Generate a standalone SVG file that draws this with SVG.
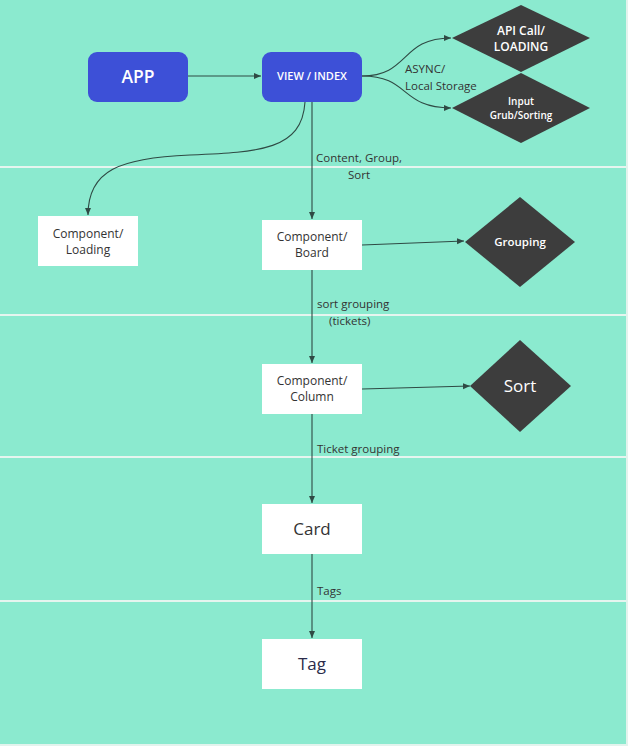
<svg xmlns="http://www.w3.org/2000/svg" width="628" height="746" viewBox="0 0 628 746">
<defs>
<style>
.bg{fill:#8beacf}
.lane{stroke:#e6f5ef;stroke-width:2}
.blue{fill:#3d50d7}
.white{fill:#ffffff}
.dia{fill:#3d3d3d}
.edge{fill:none;stroke:#2f4a44;stroke-width:1.1}
.t{font-family:"Open Sans","Noto Sans","Liberation Sans",sans-serif;text-anchor:middle}
.lbl{font-family:"Open Sans","Noto Sans","Liberation Sans",sans-serif;font-size:11.5px;fill:#333}
.wt{fill:#ffffff}
.dk{fill:#333333}
</style>
<marker id="arr" markerWidth="8" markerHeight="8" refX="7" refY="4" orient="auto" markerUnits="userSpaceOnUse">
<path d="M0,1 L7,4 L0,7 Z" fill="#2f4a44"/>
</marker>
</defs>
<rect x="0" y="0" width="628" height="746" fill="#e3f3ed"/>
<rect class="bg" x="0" y="0" width="626" height="744"/>
<g id="lanes">
<line class="lane" x1="0" y1="167" x2="626" y2="167"/>
<line class="lane" x1="0" y1="315" x2="626" y2="315"/>
<line class="lane" x1="0" y1="457" x2="626" y2="457"/>
<line class="lane" x1="0" y1="601" x2="626" y2="601"/>
</g>
<g id="connectors">
<path class="edge" d="M188,76 L261,76" marker-end="url(#arr)"/>
<path class="edge" d="M362,76 C410,76 400,38 451,38" marker-end="url(#arr)"/>
<path class="edge" d="M362,76 C410,76 400,108 451,108" marker-end="url(#arr)"/>
<path class="edge" d="M305,102 C302,150 260,152 190,155 C120,158 88,170 88,215" marker-end="url(#arr)"/>
<path class="edge" d="M312,102 L312,219" marker-end="url(#arr)"/>
<path class="edge" d="M362,245 L464,241" marker-end="url(#arr)"/>
<path class="edge" d="M312,270 L312,363" marker-end="url(#arr)"/>
<path class="edge" d="M362,389 L470,386" marker-end="url(#arr)"/>
<path class="edge" d="M312,414 L312,503" marker-end="url(#arr)"/>
<path class="edge" d="M312,554 L312,638" marker-end="url(#arr)"/>
<text class="lbl" x="405" y="73">ASYNC/</text>
<text class="lbl" x="405" y="90">Local Storage</text>
<text class="lbl" x="359" y="162" text-anchor="middle">Content, Group,</text>
<text class="lbl" x="359" y="179" text-anchor="middle">Sort</text>
<text class="lbl" x="317" y="308">sort grouping</text>
<text class="lbl" x="329" y="325">(tickets)</text>
<text class="lbl" x="317" y="453">Ticket grouping</text>
<text class="lbl" x="317" y="595">Tags</text>
</g>
<g id="app">
<rect class="blue" x="88" y="52" width="100" height="50" rx="9"/>
<text class="t wt" x="138" y="83" font-size="17.5" font-weight="600">APP</text>
</g>
<g id="view-index">
<rect class="blue" x="262" y="52" width="100" height="50" rx="9"/>
<text class="t wt" x="312" y="80" font-size="11" font-weight="600">VIEW / INDEX</text>
</g>
<g id="api-call">
<polygon class="dia" points="521,5 590,38 521,72 452,38"/>
<text class="t wt" x="521" y="35" font-size="12" font-weight="600">API Call/</text>
<text class="t wt" x="521" y="51" font-size="12" font-weight="600">LOADING</text>
</g>
<g id="input-grub">
<polygon class="dia" points="521,73 590,108 521,143 452,108"/>
<text class="t wt" x="521" y="105" font-size="10" font-weight="600">Input</text>
<text class="t wt" x="521" y="119" font-size="10" font-weight="600">Grub/Sorting</text>
</g>
<g id="component-loading">
<rect class="white" x="38" y="216" width="100" height="50"/>
<text class="t dk" x="88" y="238" font-size="12">Component/</text>
<text class="t dk" x="88" y="254" font-size="12">Loading</text>
</g>
<g id="component-board">
<rect class="white" x="262" y="220" width="100" height="50"/>
<text class="t dk" x="312" y="241" font-size="12">Component/</text>
<text class="t dk" x="312" y="257" font-size="12">Board</text>
</g>
<g id="grouping">
<polygon class="dia" points="520,197 575,242 520,287 465,242"/>
<text class="t wt" x="520" y="246" font-size="11.5" font-weight="600">Grouping</text>
</g>
<g id="component-column">
<rect class="white" x="262" y="364" width="100" height="50"/>
<text class="t dk" x="312" y="385" font-size="12">Component/</text>
<text class="t dk" x="312" y="401" font-size="12">Column</text>
</g>
<g id="sort">
<polygon class="dia" points="520,340 571,386 520,432 470,386"/>
<text class="t wt" x="520" y="392" font-size="17">Sort</text>
</g>
<g id="card">
<rect class="white" x="262" y="504" width="100" height="50"/>
<text class="t dk" x="312" y="535" font-size="17">Card</text>
</g>
<g id="tag">
<rect class="white" x="262" y="639" width="100" height="50"/>
<text class="t" x="312" y="670" font-size="17" fill="#2b2b4a">Tag</text>
</g>
</svg>
